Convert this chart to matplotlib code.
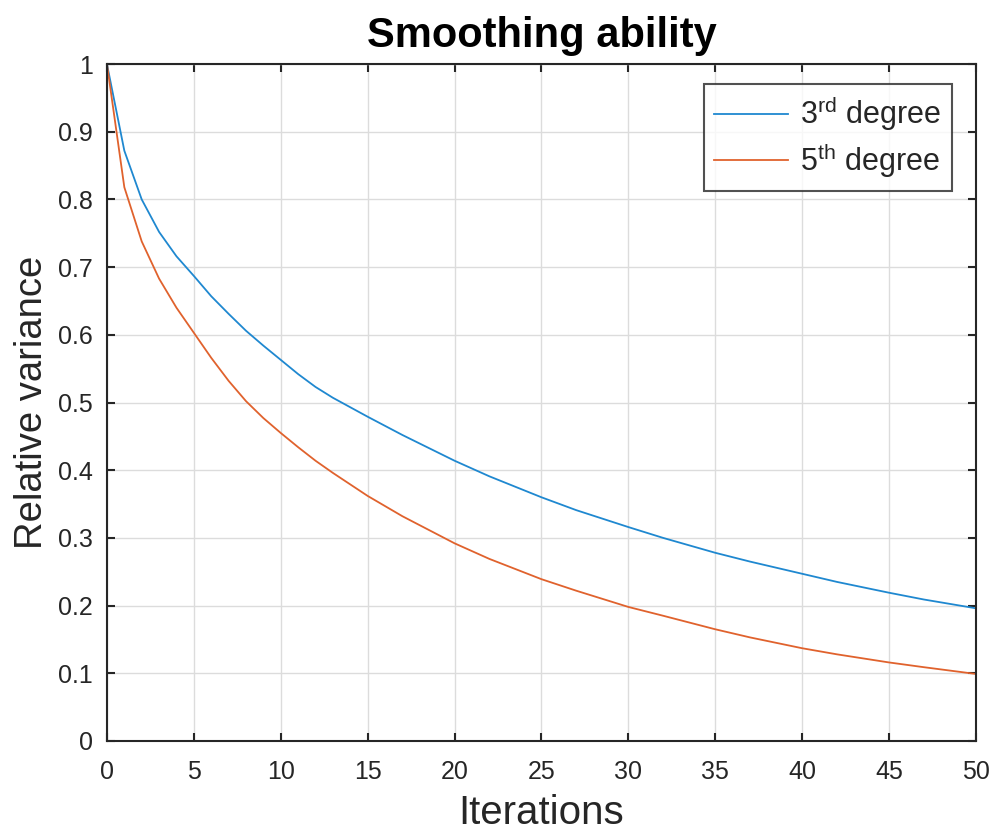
import matplotlib
matplotlib.use('Agg')
from matplotlib import pyplot as plt

plt.rcParams['font.family'] = ['Liberation Sans', 'DejaVu Sans']
plt.rcParams['mathtext.fontset'] = 'custom'
plt.rcParams['mathtext.rm'] = 'Liberation Sans'
plt.rcParams['mathtext.it'] = 'Liberation Sans'

# variance left after n smoothing passes
iterations = [0, 1, 2, 3, 4, 5, 6, 7, 8, 9, 10, 11, 12, 13, 15, 17, 20, 22, 25,
              27, 30, 32, 35, 37, 40, 42, 45, 47, 50]
var_3rd = [1.0, 0.872, 0.800, 0.752, 0.716, 0.687, 0.657, 0.631, 0.606, 0.584,
           0.563, 0.542, 0.523, 0.507, 0.479, 0.452, 0.414, 0.391, 0.360, 0.341,
           0.316, 0.300, 0.278, 0.265, 0.247, 0.235, 0.219, 0.209, 0.196]
var_5th = [1.0, 0.818, 0.738, 0.683, 0.640, 0.603, 0.566, 0.532, 0.502, 0.477,
           0.455, 0.434, 0.414, 0.396, 0.362, 0.332, 0.292, 0.269, 0.239, 0.222,
           0.198, 0.185, 0.165, 0.153, 0.137, 0.128, 0.116, 0.109, 0.099]

x_ticks = [0, 5, 10, 15, 20, 25, 30, 35, 40, 45, 50]
y_ticks = [0, 0.1, 0.2, 0.3, 0.4, 0.5, 0.6, 0.7, 0.8, 0.9, 1]
y_tick_labels = ['0', '0.1', '0.2', '0.3', '0.4', '0.5', '0.6', '0.7', '0.8', '0.9', '1']

dark = '#262626'

fig = plt.figure(figsize=(9.94, 8.32), dpi=100)
ax = fig.add_axes([0.1076, 0.1094, 0.8743, 0.8136])

ax.plot(iterations, var_3rd, color='#1f88d0', linewidth=1.3, label=r'3$^{\rm rd}$ degree')
ax.plot(iterations, var_5th, color='#e0622d', linewidth=1.3, label=r'5$^{\rm th}$ degree')

ax.set_xlim(0, 50)
ax.set_ylim(0, 1)
ax.set_xticks(x_ticks)
ax.set_yticks(y_ticks)
ax.set_yticklabels(y_tick_labels)
ax.grid(True, color='#dcdcdc', linewidth=1.0)
ax.set_axisbelow(True)

ax.tick_params(direction='in', length=6, width=1.5, colors=dark, labelsize=18,
               top=True, right=True, labelcolor=dark)
ax.tick_params(axis='x', pad=14)
ax.tick_params(axis='y', pad=10)
for s in ax.spines.values():
    s.set_color(dark)
    s.set_linewidth(1.5)

ax.set_title('Smoothing ability', fontsize=30, fontweight='bold', pad=12)
ax.set_xlabel('Iterations', fontsize=29, color=dark, labelpad=7)
ax.set_ylabel('Relative variance', fontsize=27.5, color=dark, labelpad=6)

leg = ax.legend(loc='upper right', bbox_to_anchor=(0.972, 0.971), fontsize=22,
                frameon=True, fancybox=False, edgecolor=dark, handlelength=2.4,
                borderaxespad=0.0, borderpad=0.35, labelspacing=0.25,
                handletextpad=0.4)
leg.get_frame().set_linewidth(1.5)
for t in leg.get_texts():
    t.set_color(dark)

plt.savefig('out.png', dpi=100)
plt.close()
